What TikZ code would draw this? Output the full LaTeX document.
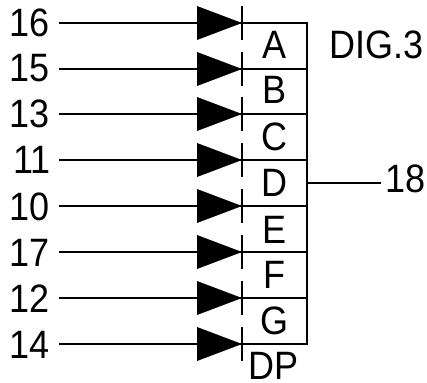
\documentclass[tikz,border=0pt]{standalone}
\usepackage{fontspec}
\setmainfont{Liberation Sans}
\newcommand{\tall}[1]{\scalebox{1}[1.1]{#1}}
\begin{document}
\begin{tikzpicture}[x=1pt,y=-1pt,
  lbl/.style={inner sep=0pt,outer sep=0pt,font=\fontsize{36}{36}\selectfont,text=black},
  wire/.style={line width=1.5pt,black},
  diodefill/.style={fill=black,draw=none}]
\useasboundingbox (0,0) rectangle (427,382);
% pin numbers (baseline positioned) and wires
\foreach \pin/\wy/\by/\px in {16/23/36.5/30,15/69/82/30,13/114/128/30,11/160/173.5/32,10/206/220/30,17/252/266.5/30,12/298/312/30,14/344/358/30}{
  \node[lbl,anchor=base] (p\pin) at (\px,\by) {\tall{\pin}};
  \coordinate (s\pin) at (59,\wy);
  \coordinate (k\pin) at (242,\wy);
  \coordinate (e\pin) at (307,\wy);
  \draw[wire] (s\pin) -- (e\pin);
  \fill[diodefill] (197,\wy-17) -- (k\pin) -- (197,\wy+17) -- cycle;
  \draw[wire] (242,\wy-17) -- (242,\wy+17);
}
% common bar
\draw[wire,line cap=rect] (e16) -- (e14);
% segment letters
\foreach \t/\by/\tx in {A/58.5/274,B/104/274,C/150/274,D/196/274,E/243/274,F/288/274,G/334/274}{
  \node[lbl,anchor=base] (seg\t) at (\tx,\by) {\tall{\t}};
}
\node[lbl,anchor=base] (segDP) at (273.5,379) {\tall{DP}};
\node[lbl,anchor=base west] (dig) at (329,59) {\tall{DIG.3}};
% common pin
\node[lbl,anchor=base] (p18) at (405.5,192) {\tall{18}};
\coordinate (c18) at (307,183);
\coordinate (c18r) at (381,183);
\draw[wire] (c18) -- (c18r);
\end{tikzpicture}
\end{document}
